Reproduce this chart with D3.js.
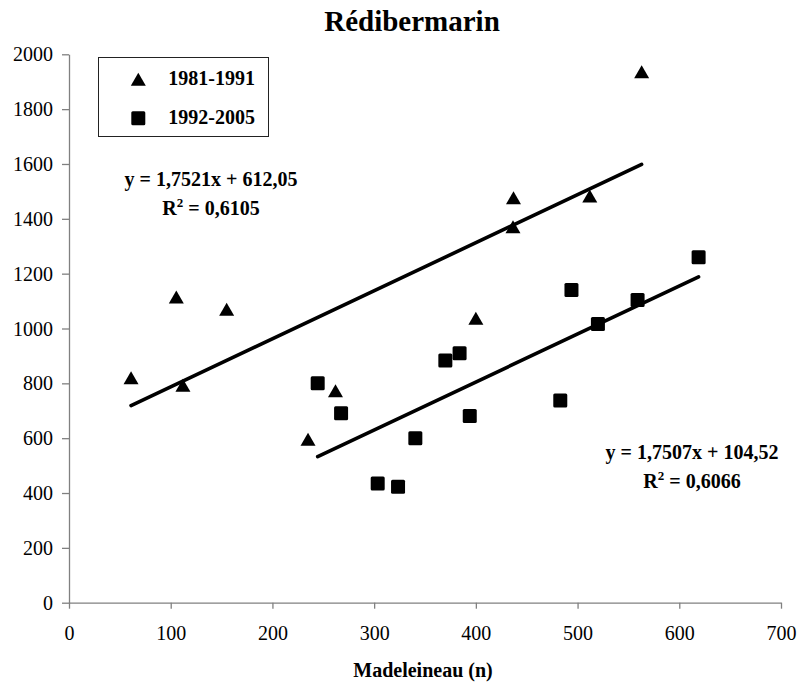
<!DOCTYPE html>
<html>
<head>
<meta charset="utf-8">
<script src="https://cdn.jsdelivr.net/npm/d3@7"></script>
<style>
  body { margin: 0; background: #fff; }
  text { font-family: "Liberation Serif", "Times New Roman", Times, Tinos, "DejaVu Serif", serif; fill: #000; }
</style>
</head>
<body>
<script>
// data
var seriesNames = ["1981-1991", "1992-2005"];

var triX = [61, 105.5, 112, 155, 235, 262, 400, 436.5, 437, 512, 563];
var triY = [820, 1115, 793, 1070, 596, 773, 1037, 1371, 1477, 1483, 1936];

var sqX = [244.5, 267.5, 303.5, 323.5, 340.5, 370, 384, 394, 483, 494, 520, 559, 619];
var sqY = [800, 691, 435, 423, 600, 883, 910, 681, 737, 1140, 1016, 1104, 1260];

var slopes = [1.7521, 1.7507];
var intercepts = [612.05, 104.52];
var eqLabels = ["y = 1,7521x + 612,05", "y = 1,7507x + 104,52"];
var r2Labels = ["0,6105", "0,6066"];

var xTicks = [0, 100, 200, 300, 400, 500, 600, 700];
var yTicks = [0, 200, 400, 600, 800, 1000, 1200, 1400, 1600, 1800, 2000];

var W = 806, H = 683;
var serif = '"Liberation Serif", "Times New Roman", Times, Tinos, "DejaVu Serif", serif';

var svg = d3.select("body").append("svg")
  .attr("width", W)
  .attr("height", H)
  .attr("font-family", serif);

var x = d3.scaleLinear().domain([0, 700]).range([69, 781]);
var y = d3.scaleLinear().domain([0, 2000]).range([602.7, 54.3]);

// title
svg.append("text")
  .attr("x", 412)
  .attr("y", 31)
  .attr("text-anchor", "middle")
  .style("font-size", "29px")
  .style("font-weight", "bold")
  .text("Rédibermarin");

// axes
var yAxis = svg.append("g")
  .attr("transform", "translate(" + x(0) + ",0)")
  .call(d3.axisLeft(y).tickValues(yTicks).tickFormat(d3.format("d"))
    .tickSize(7).tickSizeOuter(0).tickPadding(9));
yAxis.selectAll("text").attr("dy", "0.33em");

var xAxis = svg.append("g")
  .attr("transform", "translate(0," + y(0) + ")")
  .call(d3.axisBottom(x).tickValues(xTicks).tickFormat(d3.format("d"))
    .tickSize(6).tickSizeOuter(0));
xAxis.selectAll("text").attr("dy", null).attr("y", 37);

svg.selectAll("g").attr("font-family", serif);
svg.selectAll(".tick text")
  .style("font-family", serif)
  .style("font-size", "20px")
  .attr("fill", "#000");
svg.selectAll(".domain, .tick line")
  .attr("stroke", "#808080")
  .attr("stroke-width", 1.3);

// x axis title
svg.append("text")
  .attr("x", 423)
  .attr("y", 677)
  .attr("text-anchor", "middle")
  .style("font-size", "20px")
  .style("font-weight", "bold")
  .text("Madeleineau (n)");

// trend lines
var seriesX = [triX, sqX];
seriesX.forEach(function (xs, i) {
  var x0 = d3.min(xs), x1 = d3.max(xs);
  svg.append("line")
    .attr("x1", x(x0))
    .attr("y1", y(slopes[i] * x0 + intercepts[i]))
    .attr("x2", x(x1))
    .attr("y2", y(slopes[i] * x1 + intercepts[i]))
    .attr("stroke", "#000")
    .attr("stroke-width", 3.6)
    .attr("stroke-linecap", "round");
});

var triPath = "M0,-6.5L7.5,6.5L-7.5,6.5Z";

// points
svg.append("g").selectAll("path")
  .data(d3.zip(triX, triY))
  .enter().append("path")
  .attr("d", triPath)
  .attr("transform", function (d) { return "translate(" + x(d[0]) + "," + y(d[1]) + ")"; })
  .attr("fill", "#000");

svg.append("g").selectAll("rect")
  .data(d3.zip(sqX, sqY))
  .enter().append("rect")
  .attr("x", function (d) { return x(d[0]) - 7; })
  .attr("y", function (d) { return y(d[1]) - 7; })
  .attr("width", 14)
  .attr("height", 14)
  .attr("rx", 1.5)
  .attr("fill", "#000");

// equations
var eqPos = [[211, 186], [692, 459]];
eqPos.forEach(function (p, i) {
  svg.append("text")
    .attr("x", p[0])
    .attr("y", p[1])
    .attr("text-anchor", "middle")
    .style("font-size", "20px")
    .style("font-weight", "bold")
    .text(eqLabels[i]);
  var t = svg.append("text")
    .attr("x", p[0])
    .attr("y", p[1] + 29)
    .attr("text-anchor", "middle")
    .style("font-size", "20px")
    .style("font-weight", "bold");
  t.append("tspan").text("R");
  t.append("tspan").attr("dy", -8).style("font-size", "13px").text("2");
  t.append("tspan").attr("dy", 8).text(" = " + r2Labels[i]);
});

// legend
var legend = svg.append("g");
legend.append("rect")
  .attr("x", 98.5)
  .attr("y", 57.5)
  .attr("width", 170)
  .attr("height", 79)
  .attr("fill", "#fff")
  .attr("stroke", "#222")
  .attr("stroke-width", 1);

legend.append("path")
  .attr("d", triPath)
  .attr("transform", "translate(138.3,79.3)")
  .attr("fill", "#000");
legend.append("rect")
  .attr("x", 131.3).attr("y", 111.3)
  .attr("width", 14).attr("height", 14)
  .attr("rx", 1.5)
  .attr("fill", "#000");

legend.selectAll("text.lg")
  .data(seriesNames)
  .enter().append("text")
  .attr("class", "lg")
  .attr("x", 168.3)
  .attr("y", function (d, i) { return i === 0 ? 85 : 124.3; })
  .style("font-size", "20px")
  .style("font-weight", "bold")
  .text(function (d) { return d; });
</script>
</body>
</html>
